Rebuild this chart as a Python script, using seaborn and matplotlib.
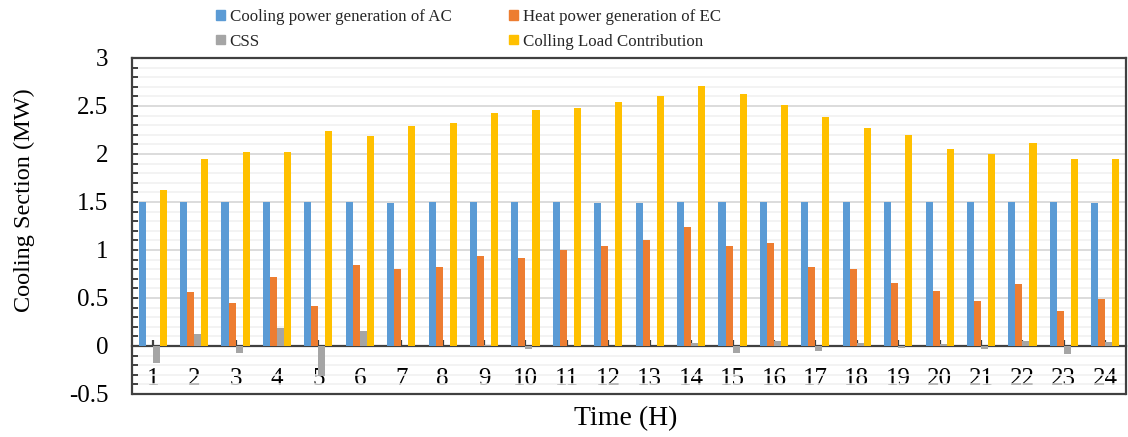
import numpy as np
import pandas as pd
import matplotlib
matplotlib.use("Agg")
import matplotlib.pyplot as plt
from matplotlib.ticker import MultipleLocator, FuncFormatter
import seaborn as sns

hours = [str(h) for h in range(1, 25)]
ac = [1.50, 1.50, 1.50, 1.50, 1.50, 1.50, 1.49, 1.50, 1.50, 1.50, 1.50, 1.49,
      1.49, 1.50, 1.50, 1.50, 1.50, 1.50, 1.50, 1.50, 1.50, 1.50, 1.50, 1.49]
ec = [0.00, 0.565, 0.45, 0.715, 0.415, 0.84, 0.80, 0.82, 0.94, 0.92, 1.00, 1.04,
      1.10, 1.235, 1.04, 1.07, 0.82, 0.80, 0.66, 0.575, 0.47, 0.65, 0.365, 0.485]
css = [-0.18, 0.125, -0.075, 0.19, -0.31, 0.16, 0.0, 0.0, 0.01, -0.03, 0.0, 0.0,
       0.0, 0.035, -0.075, 0.055, -0.05, 0.03, -0.02, 0.02, -0.03, 0.05, -0.08, 0.04]
load = [1.62, 1.945, 2.02, 2.02, 2.24, 2.19, 2.295, 2.32, 2.43, 2.455, 2.48, 2.54,
        2.60, 2.71, 2.62, 2.51, 2.385, 2.27, 2.20, 2.05, 2.00, 2.11, 1.95, 1.95]

series_names = ["Cooling power generation of AC", "Heat power generation of EC",
                "CSS", "Colling Load Contribution"]
colors = ["#5B9BD5", "#ED7D31", "#A5A5A5", "#FFC000"]

df = pd.DataFrame({
    "Hour": hours * 4,
    "Value": ac + ec + css + load,
    "Series": sum([[n] * 24 for n in series_names], []),
})

sns.set_theme(style="white")
plt.rcParams["font.family"] = ["Liberation Serif", "DejaVu Serif"]

fig = plt.figure(figsize=(11.28, 4.37), dpi=100)
ax = fig.add_axes([132 / 1128, 1 - 394 / 437, 994 / 1128, 336 / 437])

sns.barplot(data=df, x="Hour", y="Value", hue="Series", order=hours,
            hue_order=series_names, palette=colors, width=0.68,
            linewidth=0, saturation=1, errorbar=None, ax=ax, zorder=3)

ax.set_ylim(-0.5, 3)
ax.set_xlim(-0.5, 23.5)
ax.yaxis.set_major_locator(MultipleLocator(0.5))
ax.yaxis.set_minor_locator(MultipleLocator(0.1))
ax.yaxis.set_major_formatter(FuncFormatter(lambda v, p: "%g" % round(v, 2)))
ax.set_axisbelow(True)
ax.grid(which="major", axis="y", color="#D9D9D9", lw=1.3, zorder=0)
ax.grid(which="minor", axis="y", color="#F0F0F0", lw=1.1, zorder=0)
ax.grid(which="both", axis="x", visible=False)

dark = "#404040"
for s in ["left", "top", "right", "bottom"]:
    ax.spines[s].set_visible(True)
    ax.spines[s].set_color(dark)
    ax.spines[s].set_linewidth(1.6)
ax.spines["bottom"].set_position(("data", 0))
ax.axhline(-0.5, color=dark, lw=1.6, clip_on=False, zorder=5)

ax.tick_params(axis="y", which="both", direction="in", left=True, length=4.5,
               width=1.4, color=dark, labelsize=18, pad=17, labelcolor="black")
ax.tick_params(axis="x", which="major", direction="in", bottom=True, length=4.5,
               width=1.6, color=dark, labelsize=18, pad=16, labelcolor="black")

ax.set_xlabel("Time (H)", fontsize=20, color="black")
ax.set_ylabel("Cooling Section (MW)", fontsize=17.5, color="black")
ax.xaxis.set_label_coords(0.497, -0.036)
ax.yaxis.set_label_coords(-0.098, 0.577)

ax.legend_.remove()
handles = [plt.Rectangle((0, 0), 1, 1, color=c) for c in colors]
order = [0, 2, 1, 3]
fig.legend([handles[i] for i in order], [series_names[i] for i in order],
           loc="upper left", bbox_to_anchor=(206 / 1128, 1 + 1 / 437), ncol=2,
           frameon=False, fontsize=12.2, handlelength=0.5, handleheight=0.5,
           handletextpad=0.3, columnspacing=3.4, labelspacing=0.5, borderpad=0.1)

fig.savefig("out.png", dpi=100)
